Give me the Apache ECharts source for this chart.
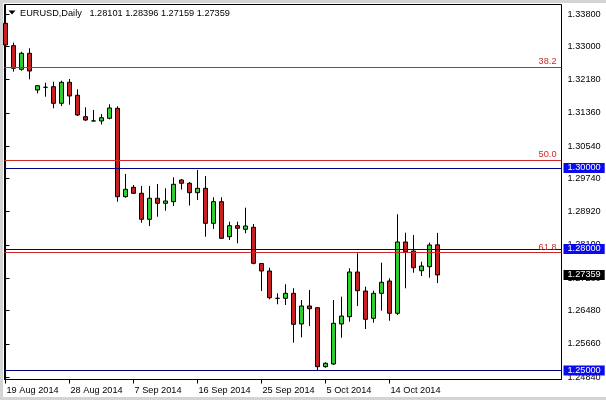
<!DOCTYPE html>
<html><head><meta charset="utf-8">
<script src="https://cdn.jsdelivr.net/npm/echarts@6/dist/echarts.min.js"></script>
<style>html,body{margin:0;padding:0;background:#fff}#c{width:606px;height:400px}</style>
</head><body><div id="c"></div>
<script>
const chartTitle = 'EURUSD,Daily';
const dates = ['19 Aug 2014','20 Aug 2014','21 Aug 2014','22 Aug 2014','24 Aug 2014','25 Aug 2014','26 Aug 2014','27 Aug 2014',
  '28 Aug 2014','29 Aug 2014','31 Aug 2014','1 Sep 2014','2 Sep 2014','3 Sep 2014','4 Sep 2014','5 Sep 2014',
  '7 Sep 2014','8 Sep 2014','9 Sep 2014','10 Sep 2014','11 Sep 2014','12 Sep 2014','14 Sep 2014','15 Sep 2014',
  '16 Sep 2014','17 Sep 2014','18 Sep 2014','19 Sep 2014','21 Sep 2014','22 Sep 2014','23 Sep 2014','24 Sep 2014',
  '25 Sep 2014','26 Sep 2014','28 Sep 2014','29 Sep 2014','30 Sep 2014','1 Oct 2014','2 Oct 2014','3 Oct 2014',
  '5 Oct 2014','6 Oct 2014','7 Oct 2014','8 Oct 2014','9 Oct 2014','10 Oct 2014','12 Oct 2014','13 Oct 2014',
  '14 Oct 2014','15 Oct 2014','16 Oct 2014','17 Oct 2014','19 Oct 2014','20 Oct 2014','21 Oct 2014'];
const opens  = [1.33570,1.33018,1.32435,1.32830,1.31924,1.31991,1.32005,1.31596,1.32114,1.31793,1.31265,1.31160,1.31159,1.31225,1.31472,1.29290,
  1.29522,1.29374,1.28732,1.29251,1.29127,1.29167,1.29702,1.29621,1.29389,1.29497,1.28633,1.29167,1.28303,1.28574,1.28485,1.28535,
  1.27641,1.27456,1.26782,1.26782,1.26905,1.26148,1.26592,1.26550,1.25094,1.25160,1.26148,1.26328,1.27431,1.26962,1.26288,1.26905,
  1.27209,1.26412,1.28172,1.27950,1.27463,1.27562,1.28101];
const highs  = [1.33570,1.33092,1.32869,1.32953,1.32047,1.32104,1.32129,1.32154,1.32196,1.31941,1.31497,1.31430,1.31332,1.31571,1.31522,1.29850,
  1.29579,1.29554,1.29554,1.29604,1.29497,1.29769,1.29727,1.29653,1.29949,1.29801,1.29275,1.29275,1.28673,1.28673,1.29019,1.28616,
  1.27654,1.27537,1.26905,1.27128,1.27029,1.26740,1.26987,1.26567,1.25202,1.26740,1.26822,1.27523,1.27893,1.27069,1.26970,1.27661,
  1.27276,1.28856,1.28401,1.28345,1.27686,1.28155,1.28396];
const lows   = [1.33000,1.32376,1.32400,1.32188,1.31842,1.31759,1.31472,1.31529,1.31561,1.31282,1.31159,1.31151,1.31072,1.31201,1.29167,1.29265,
  1.29357,1.28648,1.28567,1.28796,1.28944,1.29060,1.29468,1.29073,1.29209,1.28303,1.28493,1.28246,1.28221,1.28140,1.28387,1.27621,
  1.26962,1.26757,1.26634,1.26617,1.25686,1.25819,1.26098,1.25000,1.25069,1.25136,1.25809,1.26204,1.26592,1.26024,1.26180,1.26476,
  1.26229,1.26370,1.27029,1.27414,1.27333,1.27291,1.27159];
const closes = [1.33035,1.32460,1.32830,1.32393,1.32030,1.31991,1.31596,1.32114,1.31776,1.31307,1.31183,1.31160,1.31240,1.31480,1.29290,1.29473,
  1.29374,1.28732,1.29251,1.29127,1.29184,1.29596,1.29621,1.29389,1.29497,1.28633,1.29167,1.28263,1.28574,1.28510,1.28567,1.27646,
  1.27456,1.26797,1.26782,1.26905,1.26140,1.26592,1.26525,1.25094,1.25178,1.26165,1.26345,1.27431,1.26970,1.26264,1.26905,1.27177,
  1.26412,1.28172,1.27932,1.27537,1.27579,1.28098,1.27359];
const priceTicks = [1.33800,1.33000,1.32180,1.31360,1.30540,1.29740,1.28920,1.28100,1.27280,1.26480,1.25660,1.24840];
const dateTickIndex = [0,8,16,24,32,40,48];
const fibNames  = ['38.2','50.0','61.8'];
const fibValues = [1.324843,1.301959,1.279076];
const levelValues = [1.30000,1.28000,1.25000];

const FONT = "'Liberation Sans',Arial,sans-serif";
const FS = 9.2;
const RED_LINE = '#d02828';
const NAVY = '#000080';
const BOX_BLUE = '#0a0aee';
const last = opens.length - 1;

const candleData = dates.map((d, i) => [i, opens[i], closes[i], lows[i], highs[i]]);

const markData = [];
fibNames.forEach((n, i) => markData.push({
  yAxis: fibValues[i],
  lineStyle: { color: RED_LINE, width: 1, type: 'solid' },
  label: { show: true, position: 'insideEndTop', formatter: n, color: RED_LINE,
           fontFamily: FONT, fontSize: FS, distance: [5, 1] }
}));
levelValues.forEach(v => markData.push({
  yAxis: v,
  lineStyle: { color: NAVY, width: 1, type: 'solid' },
  label: { show: true, position: 'end', formatter: v.toFixed(5), color: '#fff',
           backgroundColor: BOX_BLUE, padding: [1, 4, 0, 4], lineHeight: 9,
           fontFamily: FONT, fontSize: FS, distance: 2 }
}));
markData.push({
  yAxis: closes[last],
  lineStyle: { color: 'rgba(0,0,0,0)', width: 1 },
  label: { show: true, position: 'end', formatter: closes[last].toFixed(5), color: '#fff',
           backgroundColor: '#000', padding: [1, 4, 0, 4], lineHeight: 9,
           fontFamily: FONT, fontSize: FS, distance: 2 }
});

const chart = echarts.init(document.getElementById('c'), null, { renderer: 'canvas' });
chart.setOption({
  animation: false,
  backgroundColor: '#fff',
  grid: { left: 4.5, right: 44.5, top: 4.5, bottom: 20.5, show: true, borderColor: '#000', borderWidth: 1, backgroundColor: '#fff' },
  xAxis: {
    type: 'value', min: -0.125, max: 69.5,
    axisLine: { show: true, lineStyle: { color: '#000' } },
    splitLine: { show: false },
    axisTick: { show: true, customValues: dateTickIndex, length: 4, lineStyle: { color: '#000' } },
    axisLabel: { customValues: dateTickIndex, formatter: v => dates[Math.round(v)] || '', align: 'left',
                 padding: [0, 0, 0, 1], margin: 6, color: '#000', fontFamily: FONT, fontSize: FS, hideOverlap: false }
  },
  yAxis: {
    type: 'value', position: 'right', scale: true, min: 1.247775, max: 1.340345,
    axisLine: { show: true, lineStyle: { color: '#000' } },
    splitLine: { show: false },
    axisTick: { show: true, customValues: priceTicks, length: 4, lineStyle: { color: '#000' } },
    axisLabel: { customValues: priceTicks, formatter: v => v.toFixed(5), margin: 6, color: '#000',
                 fontFamily: FONT, fontSize: FS, hideOverlap: false }
  },
  series: [{
    type: 'candlestick',
    encode: { x: 0, y: [1, 2, 3, 4] },
    data: candleData,
    barWidth: 4,
    itemStyle: { color: '#2fcf2f', color0: '#c82020', borderColor: '#000', borderColor0: '#000',
                 borderColorDoji: '#000', borderWidth: 1 },
    markLine: { silent: true, precision: 6, symbol: ['none', 'none'], animation: false, data: markData }
  }],
  graphic: [
    { type: 'rect', shape: { x: 0, y: 0, width: 3, height: 400 }, style: { fill: '#d4d4d4' }, silent: true },
    { type: 'rect', shape: { x: 0, y: 0, width: 606, height: 3 }, style: { fill: '#d4d4d4' }, silent: true },
    { type: 'rect', shape: { x: 0, y: 397, width: 606, height: 3 }, style: { fill: '#d4d4d4' }, silent: true },
    { type: 'polygon', shape: { points: [[8.5, 10.5], [15.5, 10.5], [12, 14.5]] }, style: { fill: '#000' }, silent: true },
    { type: 'text', x: 20, y: 13, silent: true,
      style: { text: chartTitle + '   ' + [opens[last], highs[last], lows[last], closes[last]].map(v => v.toFixed(5)).join(' '),
               fill: '#000', font: FS + 'px ' + FONT, verticalAlign: 'middle' } }
  ]
});
</script></body></html>
